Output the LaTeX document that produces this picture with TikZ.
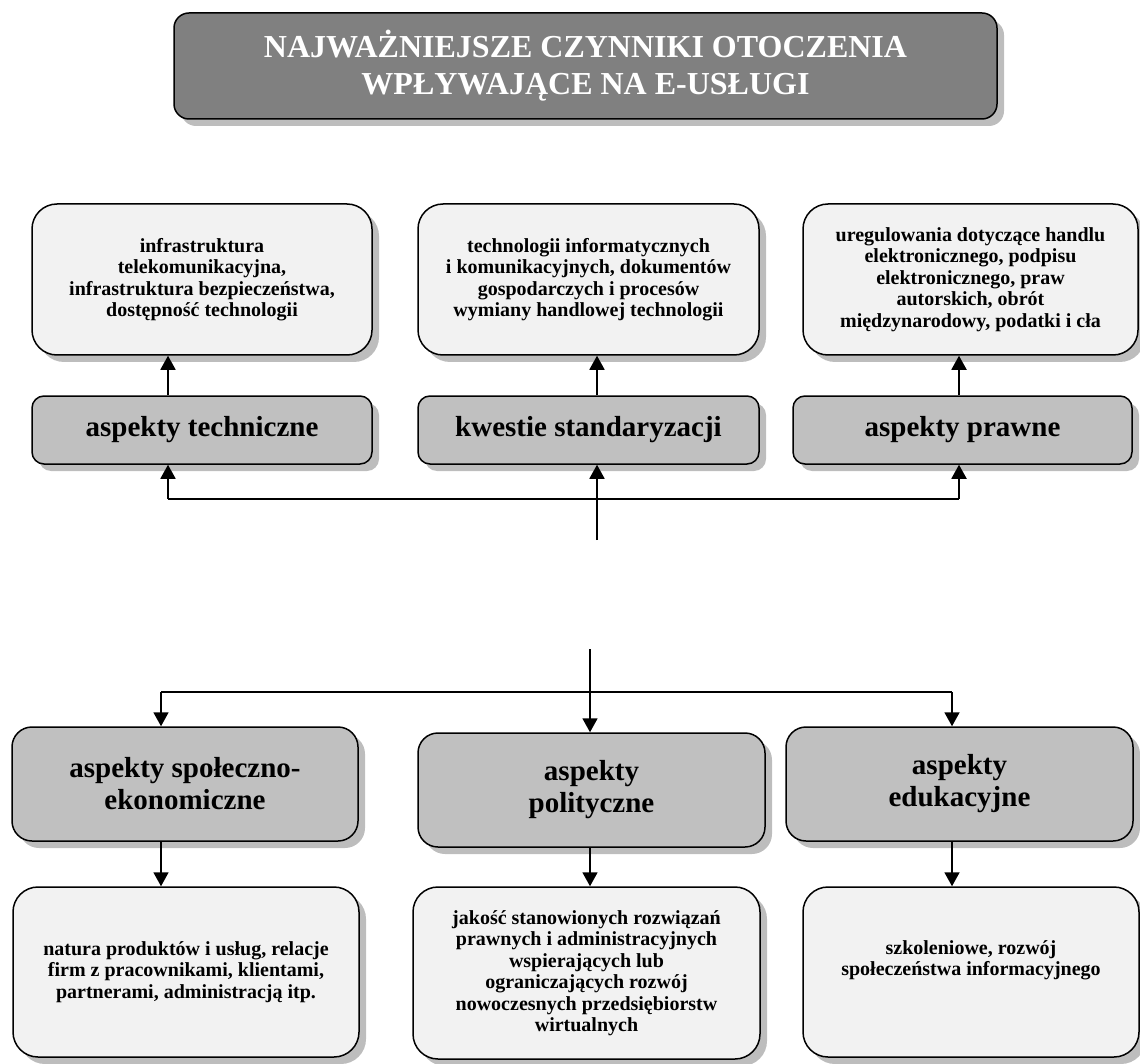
\documentclass[tikz,border=0pt]{standalone}
\usepackage{fontspec}
\setmainfont{Liberation Serif}
\usetikzlibrary{arrows.meta,shadows}
\definecolor{titleGray}{HTML}{808080}
\definecolor{headGray}{HTML}{C0C0C0}
\definecolor{boxGray}{HTML}{F2F2F2}
\definecolor{shadeGray}{HTML}{BDBDBD}

\begin{document}
\begin{tikzpicture}[x=1pt, y=-1pt, >={Triangle[length=14pt,width=15pt]},
  shbox/.style={rectangle, draw=black, line width=1.5pt, align=center, inner sep=0pt,
    drop shadow={shadow xshift=7pt, shadow yshift=-7pt, fill=shadeGray, opacity=1, draw=none}},
  titlebox/.style={shbox, fill=titleGray, rounded corners=15pt, text=white,
    font=\fontsize{32}{37}\selectfont\bfseries},
  headbox/.style={shbox, fill=headGray, rounded corners=12pt,
    font=\fontsize{29}{32}\selectfont\bfseries},
  infobox/.style={shbox, fill=boxGray, rounded corners=25pt,
    font=\fontsize{20}{21.5}\selectfont\bfseries},
  conn/.style={line width=1.8pt}]
\useasboundingbox (0,0) rectangle (1140,1064);
% --- title ---
  \node[titlebox, minimum width=823, minimum height=106] (title) at (585.5,66)
    {NAJWAŻNIEJSZE CZYNNIKI OTOCZENIA\\ WPŁYWAJĄCE NA E-USŁUGI};
% --- upper row ---
  \node[infobox, minimum width=340, minimum height=151] (topT) at (202,279.5)
    {infrastruktura\\ telekomunikacyjna,\\ infrastruktura bezpieczeństwa,\\ dostępność technologii};
  \node[infobox, minimum width=341, minimum height=151] (topS) at (588.5,279.5)
    {technologii informatycznych\\ i komunikacyjnych, dokumentów\\ gospodarczych i procesów\\ wymiany handlowej technologii};
  \node[infobox, minimum width=335, minimum height=151] (topP) at (970.5,279.5)
    {uregulowania dotyczące handlu\\ elektronicznego, podpisu\\ elektronicznego, praw\\ autorskich, obrót\\ międzynarodowy, podatki i cła};
  \node[headbox, minimum width=340, minimum height=68] (hdT) at (202,430) {aspekty techniczne};
  \node[headbox, minimum width=341, minimum height=68] (hdS) at (588.5,430) {kwestie standaryzacji};
  \node[headbox, minimum width=339, minimum height=68] (hdP) at (962.5,430) {aspekty prawne};
% --- lower row ---
  \node[headbox, rounded corners=20pt, minimum width=346, minimum height=114] (hdE) at (185,784)
    {aspekty społeczno-\\ ekonomiczne};
  \node[headbox, rounded corners=20pt, minimum width=347, minimum height=114] (hdPo) at (591.5,790)
    {aspekty\\ polityczne};
  \node[headbox, rounded corners=20pt, minimum width=347, minimum height=114] (hdEd) at (959.5,784)
    {aspekty\\ edukacyjne};
  \node[infobox, minimum width=346, minimum height=170] (botE) at (186,972)
    {natura produktów i usług, relacje\\ firm z pracownikami, klientami,\\ partnerami, administracją itp.};
  \node[infobox, minimum width=347, minimum height=172] (botPo) at (586.5,973)
    {jakość stanowionych rozwiązań\\ prawnych i administracyjnych\\ wspierających lub\\ ograniczających rozwój\\ nowoczesnych przedsiębiorstw\\ wirtualnych};
  \node[infobox, minimum width=336, minimum height=170] (botEd) at (971,972)
    {szkoleniowe, rozwój\\ społeczeństwa informacyjnego\\ \strut};
% --- connectors ---
  \coordinate (upL) at (168,499);
  \coordinate (upR) at (959,499);
  \coordinate (upM) at (597,540);
  \coordinate (dnM) at (590,649);
  \coordinate (dnL) at (161,692);
  \coordinate (dnR) at (952,692);
  \draw[conn,->] (hdT.north -| upL) -- (topT.south -| upL);
  \draw[conn,->] (hdS.north -| upM) -- (topS.south -| upM);
  \draw[conn,->] (hdP.north -| upR) -- (topP.south -| upR);
  \draw[conn] (upL) -- (upR);
  \draw[conn,->] (upL) -- (upL |- hdT.south);
  \draw[conn,->] (upR) -- (upR |- hdP.south);
  \draw[conn,->] (upM) -- (upM |- hdS.south);
  \draw[conn] (dnL) -- (dnR);
  \draw[conn,->] (dnL) -- (dnL |- hdE.north);
  \draw[conn,->] (dnR) -- (dnR |- hdEd.north);
  \draw[conn,->] (dnM) -- (dnM |- hdPo.north);
  \draw[conn,->] (hdE.south -| dnL) -- (botE.north -| dnL);
  \draw[conn,->] (hdPo.south -| dnM) -- (botPo.north -| dnM);
  \draw[conn,->] (hdEd.south -| dnR) -- (botEd.north -| dnR);
\end{tikzpicture}
\end{document}
